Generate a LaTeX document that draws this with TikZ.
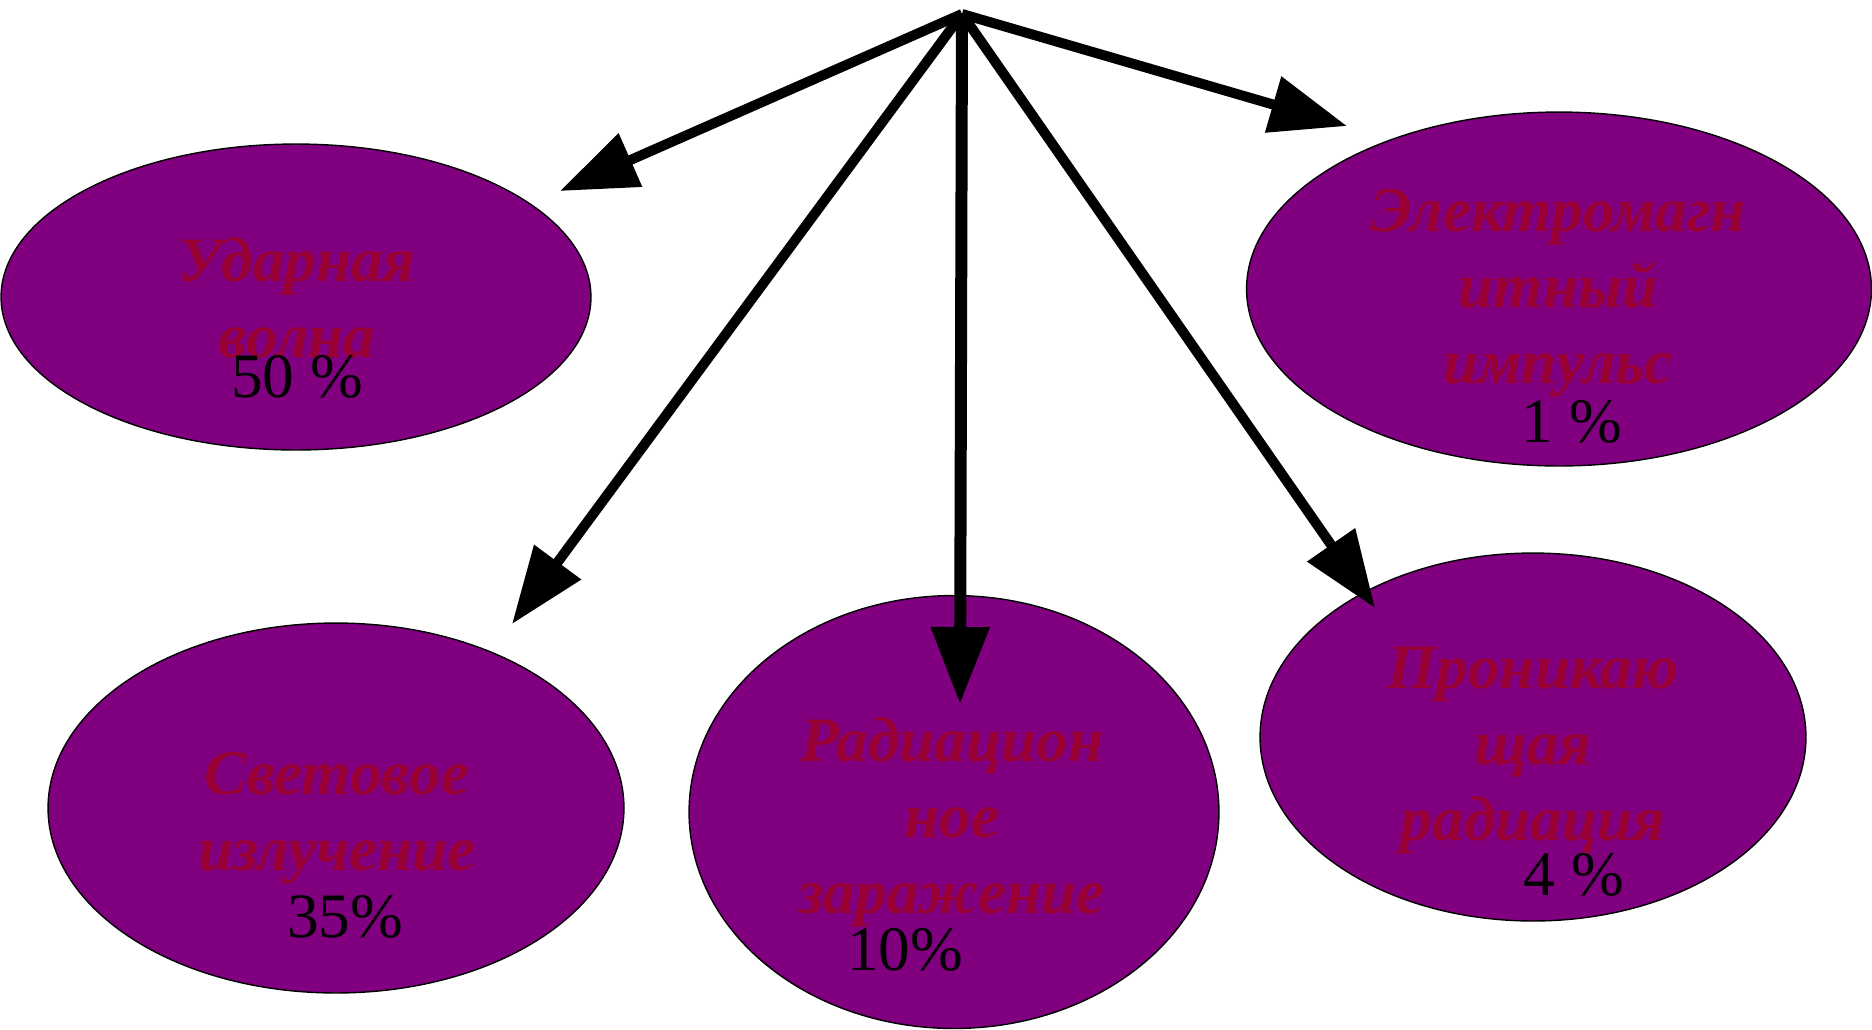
\documentclass[tikz,border=0pt]{standalone}
\usepackage{fontspec}
\setmainfont{Liberation Serif}
\usetikzlibrary{shapes.geometric, arrows.meta}
\definecolor{blobfill}{HTML}{800080}
\definecolor{titlered}{HTML}{990033}

\begin{document}
\begin{tikzpicture}[x=0.02cm, y=-0.02cm,
  blob/.style={ellipse, draw=black, line width=0.8pt, fill=blobfill, inner sep=0pt, outer sep=0pt},
  title/.style={text=titlered, font=\fontsize{36}{43.2}\selectfont\bfseries\itshape, align=center, anchor=base, inner sep=0pt},
  share/.style={font=\fontsize{36}{43.2}\selectfont, anchor=base, inner sep=0pt},
  hit/.style={line width=0.2cm, -{Triangle[length=1.54cm, width=1.12cm]}}]
  \useasboundingbox (0,0) rectangle (1872,1029);

  \node[blob, minimum width=11.8cm, minimum height=6.12cm] (wave) at (296,297) {};
  \node[blob, minimum width=12.5cm, minimum height=7.08cm] (emp) at (1559,289) {};
  \node[blob, minimum width=11.52cm, minimum height=7.4cm] (light) at (336,808) {};
  \node[blob, minimum width=10.6cm, minimum height=8.66cm] (contam) at (954,812) {};
  \node[blob, minimum width=10.92cm, minimum height=7.36cm] (pen) at (1533,737) {};

  \node[title] (wave-t) at (297,357) {Ударная\\волна};
  \node[share] (wave-p) at (297,397) {50 \%};
  \node[title] (emp-t) at (1558,383) {Электромагн\\итный\\импульс};
  \node[share] (emp-p) at (1572,442) {1 \%};
  \node[title] (light-t) at (337,870) {Световое\\излучение};
  \node[share] (light-p) at (345,937) {35\%};
  \node[title] (contam-t) at (952,913) {Радиацион\\ное\\заражение};
  \node[share] (contam-p) at (905,970) {10\%};
  \node[title] (pen-t) at (1533,840) {Проникаю\\щая\\радиация};
  \node[share] (pen-p) at (1574,895) {4 \%};

  \coordinate (src) at (962,14);
  \coordinate (wave-tip) at (560,191);
  \coordinate (light-tip) at (512,624);
  \coordinate (contam-tip) at (960,704);
  \coordinate (pen-tip) at (1375,608);
  \coordinate (emp-tip) at (1347,126);

  \draw[hit] (src) -- (wave-tip);
  \draw[hit] (src) -- (light-tip);
  \draw[hit, line width=0.24cm] (src) -- (contam-tip);
  \draw[hit] (src) -- (pen-tip);
  \draw[hit] (src) -- (emp-tip);
\end{tikzpicture}
\end{document}
